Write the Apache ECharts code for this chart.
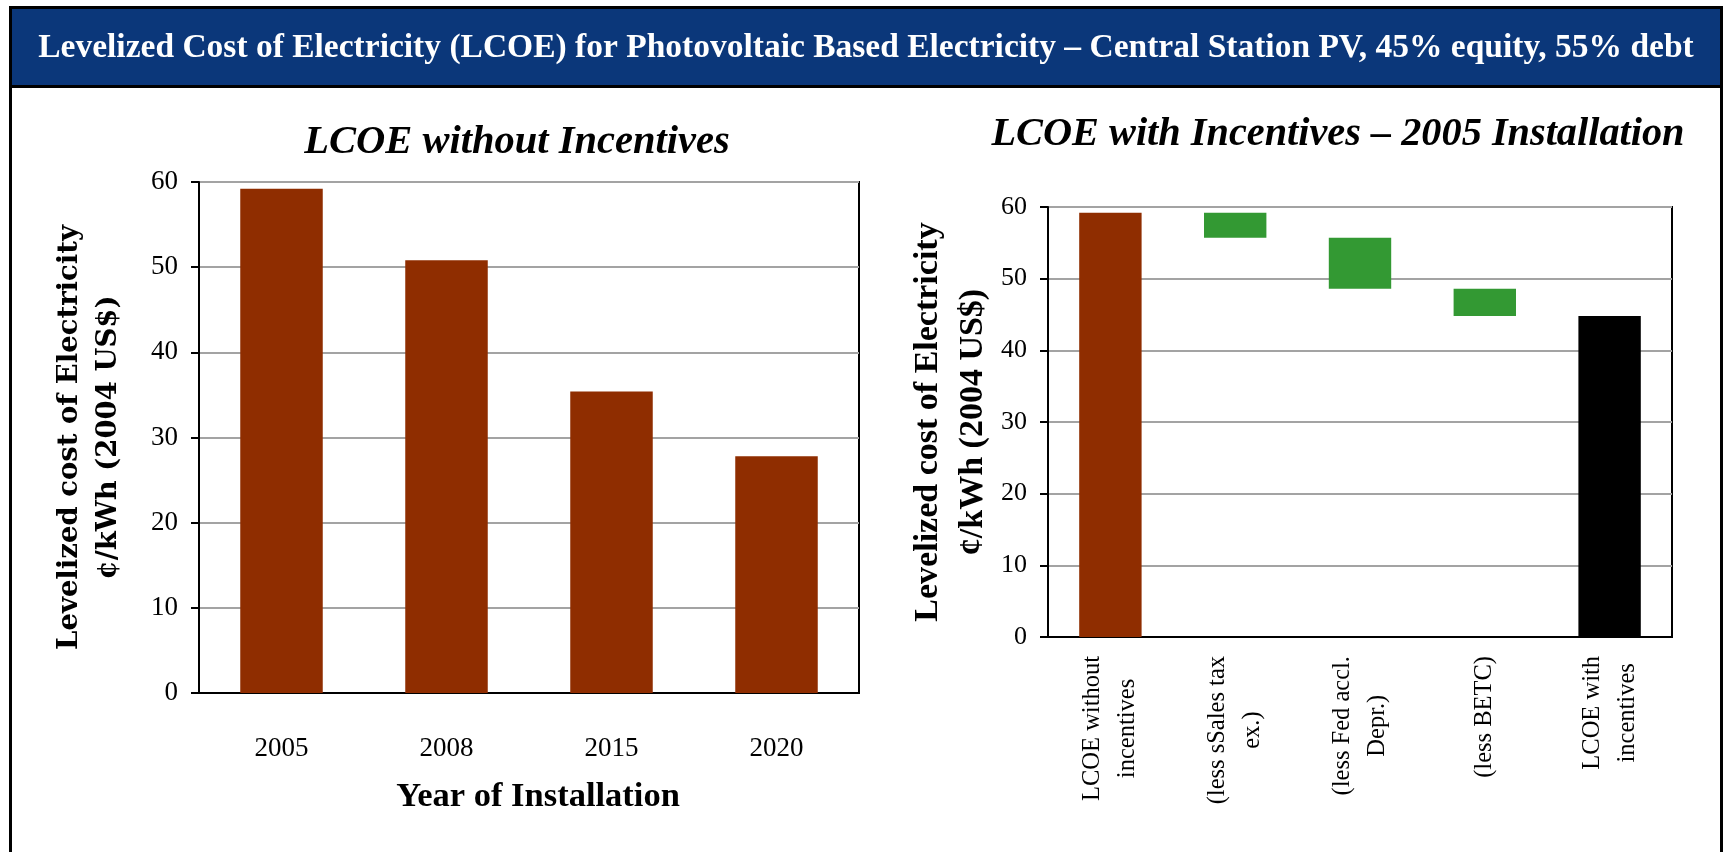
<!DOCTYPE html>
<html>
<head>
<meta charset="utf-8">
<script src="https://cdn.jsdelivr.net/npm/echarts@6/dist/echarts.min.js"></script>
<style>
  html, body { margin: 0; padding: 0; background: #ffffff; }
  #chart { width: 1724px; height: 852px; }
</style>
</head>
<body>
<div id="chart"></div>
<script>
// ---- text ----
const headerTitle = 'Levelized Cost of Electricity (LCOE) for Photovoltaic Based Electricity – Central Station PV, 45% equity, 55% debt';
const leftChartTitle = 'LCOE without Incentives';
const rightChartTitle = 'LCOE with Incentives – 2005 Installation';
const yAxisTitle = 'Levelized cost of Electricity\n¢/kWh (2004 US$)';
const xAxisTitle = 'Year of Installation';

// ---- value axis (¢/kWh) ----
const yAxisMin = 0;
const yAxisMax = 60;
const yAxisStep = 10;

// ---- LCOE by installation year ----
const installYears = ['2005', '2008', '2015', '2020'];
const lcoeByYear = [59.2, 50.8, 35.4, 27.8];

// ---- 2005 installation: incentive waterfall ----
const incentiveSteps = [
  'LCOE without\nincentives',
  '(less sSales tax\nex.)',
  '(less Fed accl.\nDepr.)',
  '(less BETC)',
  'LCOE with\nincentives'
];
const lcoe2005 = 59.2;
const incentiveReductions = [3.5, 7.1, 3.8];

// ---- colours ----
const BROWN = '#8f2d00';
const GREEN = '#339933';
const BLACK = '#000000';
const GRID_GRAY = '#a3a3a3';
const HEADER_BLUE = '#0b377a';
const SERIF = '"Liberation Serif", "DejaVu Serif", serif';

// Build the invisible base + visible segment for the waterfall
const waterfallBase = [0];
const waterfallBars = [{ value: lcoe2005, itemStyle: { color: BROWN } }];
let level = lcoe2005;
incentiveReductions.forEach(function (r) {
  level = +(level - r).toFixed(2);
  waterfallBase.push(level);
  waterfallBars.push({ value: r, itemStyle: { color: GREEN } });
});
waterfallBase.push(0);
waterfallBars.push({ value: level, itemStyle: { color: BLACK } });

function valueAxis(gridIndex, labelSize, nameFont, nameSize, nameLineHeight, nameGap) {
  return {
    type: 'value',
    gridIndex: gridIndex,
    min: yAxisMin,
    max: yAxisMax,
    interval: yAxisStep,
    name: yAxisTitle,
    nameLocation: 'middle',
    nameRotate: 90,
    nameGap: nameGap,
    nameTextStyle: {
      fontFamily: nameFont,
      fontWeight: 'bold',
      fontSize: nameSize,
      lineHeight: nameLineHeight,
      color: '#000'
    },
    axisLine: { show: true, lineStyle: { color: '#000', width: 2 } },
    axisTick: { show: true, length: 8, lineStyle: { color: '#000', width: 2 } },
    splitLine: { show: true, lineStyle: { color: GRID_GRAY, width: 2 } },
    axisLabel: {
      fontFamily: SERIF,
      fontSize: labelSize,
      color: '#000',
      margin: 21
    }
  };
}

const chart = echarts.init(document.getElementById('chart'), null, { renderer: 'canvas' });

chart.setOption({
  backgroundColor: '#ffffff',
  animation: false,
  graphic: [
    // outer frame (open at the bottom edge of the page)
    { type: 'rect', z: 0, shape: { x: 10.5, y: 7.5, width: 1711, height: 870 },
      style: { fill: 'none', stroke: '#000', lineWidth: 3 } },
    // header band
    { type: 'rect', z: 0, shape: { x: 12, y: 9, width: 1708, height: 76 },
      style: { fill: HEADER_BLUE } },
    { type: 'line', z: 0, shape: { x1: 10, y1: 86.5, x2: 1722, y2: 86.5 },
      style: { stroke: '#000', lineWidth: 3 } },
    { type: 'text', z: 1, x: 866, y: 48,
      style: { text: headerTitle, fill: '#ffffff', fontFamily: SERIF, fontWeight: 'bold',
               fontSize: 33.5, align: 'center', verticalAlign: 'middle' } }
  ],
  title: [
    { text: leftChartTitle, left: 512, top: 117, textAlign: 'center',
      textStyle: { fontFamily: SERIF, fontStyle: 'italic', fontWeight: 'bold', fontSize: 40.5, color: '#000' } },
    { text: rightChartTitle, left: 1333, top: 110, textAlign: 'center',
      textStyle: { fontFamily: SERIF, fontStyle: 'italic', fontWeight: 'bold', fontSize: 40.3, color: '#000' } }
  ],
  grid: [
    { left: 199, top: 182, width: 660, height: 511, show: true,
      borderColor: '#000', borderWidth: 2, backgroundColor: '#fff' },
    { left: 1048, top: 207, width: 624, height: 430, show: true,
      borderColor: '#000', borderWidth: 2, backgroundColor: '#fff' }
  ],
  xAxis: [
    {
      type: 'category',
      gridIndex: 0,
      data: installYears,
      name: xAxisTitle,
      nameLocation: 'middle',
      nameGap: 87,
      nameTextStyle: { fontFamily: SERIF, fontWeight: 'bold', fontSize: 34.5, color: '#000',
                       padding: [0, 0, 0, 18] },
      axisLine: { show: true, lineStyle: { color: '#000', width: 2 } },
      axisTick: { show: false },
      axisLabel: { fontFamily: SERIF, fontSize: 27, color: '#000', margin: 42 }
    },
    {
      type: 'category',
      gridIndex: 1,
      data: incentiveSteps,
      axisLine: { show: true, lineStyle: { color: '#000', width: 2 } },
      axisTick: { show: false },
      axisLabel: {
        interval: 0,
        rotate: 90,
        margin: 19,
        formatter: function (v) {
          return v.split('\n').map(function (s) { return '{c|' + s + '}'; }).join('\n');
        },
        rich: {
          c: { align: 'center', fontFamily: SERIF, fontSize: 24.5, lineHeight: 35, color: '#000' }
        }
      }
    }
  ],
  yAxis: [
    valueAxis(0, 27, '"DejaVu Serif", serif', 27.5, 38.5, 71),
    valueAxis(1, 26, SERIF, 34, 45, 52)
  ],
  series: [
    {
      type: 'bar',
      xAxisIndex: 0,
      yAxisIndex: 0,
      data: lcoeByYear,
      barWidth: '50%',
      itemStyle: { color: BROWN }
    },
    {
      type: 'bar',
      xAxisIndex: 1,
      yAxisIndex: 1,
      stack: 'waterfall',
      data: waterfallBase,
      barWidth: '50%',
      itemStyle: { color: 'transparent' },
      emphasis: { disabled: true },
      silent: true
    },
    {
      type: 'bar',
      xAxisIndex: 1,
      yAxisIndex: 1,
      stack: 'waterfall',
      data: waterfallBars,
      barWidth: '50%'
    }
  ]
});
</script>
</body>
</html>
